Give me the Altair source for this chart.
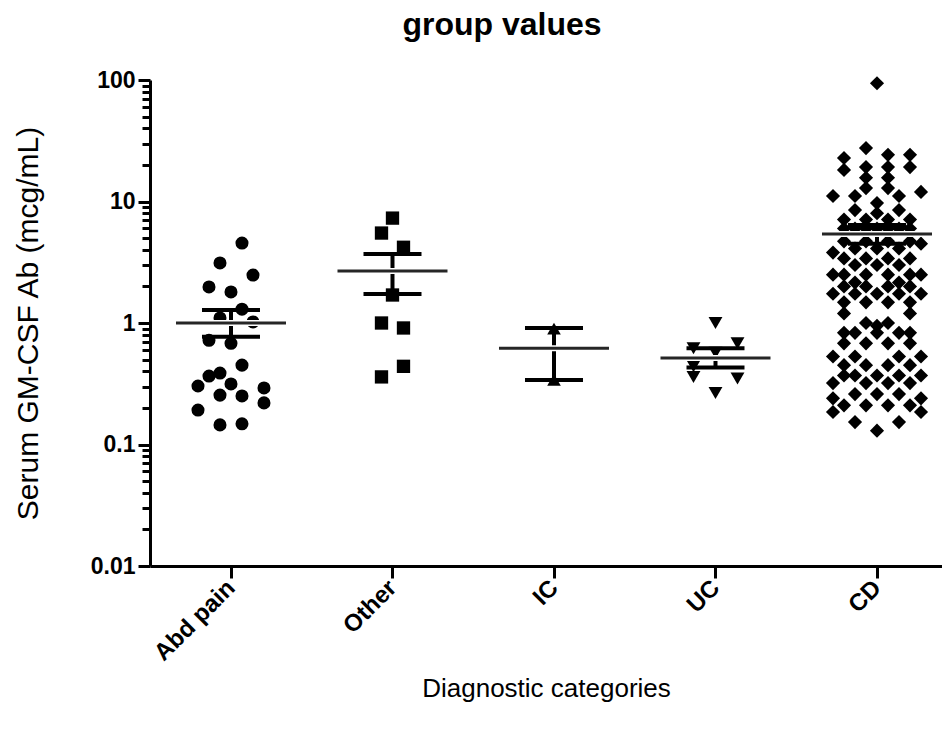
import altair as alt
import pandas as pd

categories = ["Abd pain", "Other", "IC", "UC", "CD"]
shapes = ["circle", "square", "triangle-up", "triangle-down", "diamond"]
marker_sizes = [170, 200, 170, 170, 290]

abd_values = [4.55, 3.12, 2.48, 1.98, 1.80, 1.30, 1.10, 1.02, 0.72, 0.68, 0.45,
              0.387, 0.366, 0.303, 0.315, 0.292, 0.255, 0.251, 0.22, 0.192, 0.145, 0.148]
abd_slots = [1, -1, 2, -2, 0, 1, -1, 2, -2, 0, 1, -1, -2, -3, 0, 3, -1, 1, 3, -3, -1, 1]

other_values = [7.3, 5.5, 4.2, 1.70, 1.0, 0.91, 0.44, 0.36]
other_slots = [0, -1, 1, 0, -1, 1, 1, -1]

ic_values = [0.90, 0.34]
ic_slots = [0, 0]

uc_values = [1.0, 0.68, 0.62, 0.57, 0.44, 0.36, 0.35, 0.265]
uc_slots = [0, 2, -2, 0, -2, -2, 2, 0]

cd_values = [94, 27.5, 24.2, 24.2, 22.8, 19.2, 19.2, 19.2, 18.2, 15.7, 15.7,
             12.9, 12.9, 12.0, 11.1, 11.1, 11.1, 9.7, 8.5, 8.5, 8.0,
             7.1, 7.1, 7.1, 7.1, 6.0, 6.0, 6.0, 6.0, 6.0, 6.0, 6.0,
             4.7, 4.7, 4.7, 4.7, 4.5, 4.1, 4.1, 4.1, 3.8,
             3.4, 3.4, 3.4, 3.4, 3.0, 3.0, 3.0,
             2.5, 2.5, 2.5, 2.5, 2.5, 2.5, 2.15, 2.15, 2.0, 2.0, 2.0, 2.0,
             1.74, 1.74, 1.74, 1.74, 1.74, 1.48, 1.48, 1.48, 1.48,
             1.2, 1.2, 1.0, 1.0, 0.95, 0.83, 0.83, 0.83, 0.83, 0.83,
             0.68, 0.68, 0.68, 0.68, 0.53, 0.53, 0.53, 0.53,
             0.45, 0.45, 0.45, 0.45, 0.37, 0.37, 0.37, 0.37, 0.37,
             0.32, 0.32, 0.32, 0.32, 0.26, 0.26, 0.26, 0.24, 0.24,
             0.21, 0.21, 0.21, 0.21, 0.185, 0.185, 0.153, 0.153, 0.13]
cd_slots = [0, -1, 1, 3, -3, -1, 1, 3, -3, -1, 1,
            -1, 1, 4, -4, -2, 2, 0, -2, 2, 0,
            -3, -1, 1, 3, -3, -2, -1, 0, 1, 2, 3,
            -3, -1, 1, 3, 4, -2, 0, 2, -4,
            -3, -1, 1, 3, -2, 0, 2,
            -4, -3, -1, 1, 3, 4, -2, 2, -3, -1, 1, 3,
            -4, -2, 0, 2, 4, -3, -1, 1, 3,
            -3, 3, -1, 1, 0, -3, -2, 0, 2, 3,
            -3, -1, 1, 3, -4, -2, 2, 4,
            -3, -1, 1, 3, -3, -2, 0, 2, 4,
            -4, -1, 1, 3, -2, 0, 2, -4, 4,
            -3, -1, 1, 3, -4, 4, -2, 2, 0]

means = [1.0, 2.68, 0.62, 0.515, 5.4]
sem_low = [0.77, 1.73, 0.34, 0.43, 4.5]
sem_high = [1.28, 3.70, 0.91, 0.62, 6.4]

decades = [0.01, 0.1, 1, 10, 100]
minor_ticks = [d * k for d in decades[:-1] for k in range(2, 10)]

groups = [abd_values, other_values, ic_values, uc_values, cd_values]
slots = [abd_slots, other_slots, ic_slots, uc_slots, cd_slots]
rows = []
for i, (cat, vals, sl) in enumerate(zip(categories, groups, slots)):
    for v, s in zip(vals, sl):
        rows.append({"group": cat, "idx": i, "value": v, "slot": s})
points_df = pd.DataFrame(rows)
summary_df = pd.DataFrame({"group": categories, "idx": list(range(len(categories))),
                           "mean": means, "lo": sem_low, "hi": sem_high})

FONT = "Liberation Sans"
SLOT_STEP = 0.0681  # horizontal spacing of scatter columns, in category units
cat_expr = "[" + ",".join(f"'{c}'" for c in categories) + "]"

x_scale = alt.Scale(domain=[-0.5015, 4.4025], nice=False, zero=False)
y_scale = alt.Scale(type="log", domain=[0.01, 100])
decade_test = "abs(log(datum.value)/LN10 - round(log(datum.value)/LN10)) < 1e-6"

x_axis = alt.Axis(title="Diagnostic categories", values=list(range(len(categories))),
                  labelExpr=f"{cat_expr}[round(datum.value)]",
                  labelAngle=315, labelAlign="right",
                  labelBaseline="middle", labelFont=FONT, labelFontSize=24,
                  labelFontWeight="bold", labelPadding=6, labelColor="black",
                  labelOverlap=False, labelFlush=False,
                  tickSize=12, tickWidth=3, tickColor="black",
                  domainWidth=3, domainColor="black", titleFont=FONT,
                  titleFontSize=26, titleFontWeight="normal", titleColor="black",
                  titleY=122, titleBaseline="middle", grid=False)
y_axis = alt.Axis(title="Serum GM-CSF Ab  (mcg/mL)", values=decades + minor_ticks,
                  labelExpr=f"({decade_test}) ? format(datum.value, '~g') : ''",
                  labelFont=FONT, labelFontSize=23, labelFontWeight="bold",
                  labelColor="black", labelPadding=3, labelOverlap=False,
                  labelFlush=False,
                  tickSize={"condition": {"test": decade_test, "value": 12}, "value": 8},
                  tickWidth=3, tickColor="black", domainWidth=3, domainColor="black",
                  titleFont=FONT, titleFontSize=30, titleFontWeight="normal",
                  titleColor="black", titleAngle=270, titleX=-122, titleY=243,
                  titleAlign="center", titleBaseline="middle", grid=False)

pts = alt.Chart(points_df).transform_calculate(
    xpos=f"datum.idx + datum.slot * {SLOT_STEP}"
).mark_point(filled=True, opacity=1, color="black").encode(
    x=alt.X("xpos:Q", scale=x_scale, axis=x_axis),
    y=alt.Y("value:Q", scale=y_scale, axis=y_axis),
    shape=alt.Shape("group:N", scale=alt.Scale(domain=categories, range=shapes), legend=None),
    size=alt.Size("group:N", scale=alt.Scale(domain=categories, range=marker_sizes), legend=None),
)

summ = alt.Chart(summary_df)
xs = alt.X("idx:Q", scale=x_scale)
halo = summ.mark_tick(orient="horizontal", size=112, thickness=6, color="white", opacity=1).encode(
    x=xs, y=alt.Y("mean:Q", scale=y_scale))
mean_line = summ.mark_tick(orient="horizontal", size=110, thickness=3, color="#262626", opacity=1).encode(
    x=xs, y=alt.Y("mean:Q", scale=y_scale))
vbar = summ.mark_rule(strokeWidth=4, color="black").encode(
    x=xs, y=alt.Y("lo:Q", scale=y_scale), y2="hi:Q")
cap_lo = summ.mark_tick(orient="horizontal", size=58, thickness=4, color="black", opacity=1).encode(
    x=xs, y=alt.Y("lo:Q", scale=y_scale))
cap_hi = summ.mark_tick(orient="horizontal", size=58, thickness=4, color="black", opacity=1).encode(
    x=xs, y=alt.Y("hi:Q", scale=y_scale))

chart = alt.layer(pts, vbar, cap_lo, cap_hi, halo, mean_line).properties(
    width=792, height=486,
    background="white",
    autosize=alt.AutoSizeParams(type="none"),
    padding={"left": 142, "top": 72, "right": 0, "bottom": 155},
    title=alt.TitleParams("group values", font=FONT, fontSize=32, fontWeight="bold",
                          color="black", anchor="middle", frame="group", offset=27,
                          dx=-44),
).configure_view(stroke=None).configure_axis(grid=False)

chart.save("out.html", embed_options={"renderer": "svg", "actions": False})
